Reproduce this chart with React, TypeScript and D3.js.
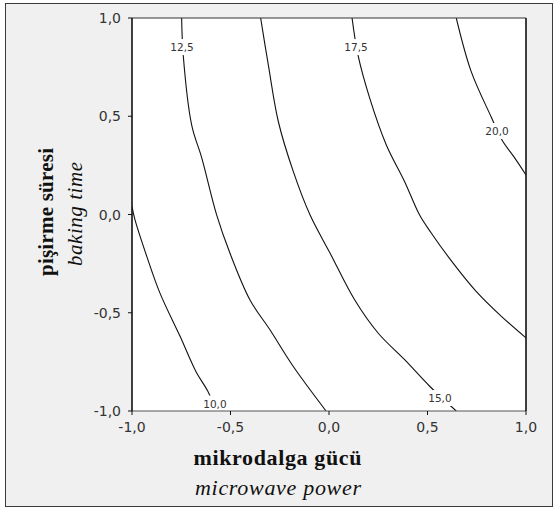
import React from 'react';
import * as d3 from 'd3';

// axis ticks
const xTicks = [-1, -0.5, 0, 0.5, 1];
const yTicks = [-1, -0.5, 0, 0.5, 1];

// contour levels and the points of each line
const levels = ['10,0', '12,5', '15,0', '17,5', '20,0'];

const line100 = [
  [-1, 0.04], [-0.985, -0.026], [-0.925, -0.213], [-0.858, -0.4],
  [-0.756, -0.62], [-0.675, -0.8], [-0.615, -0.9], [-0.574, -1],
];
const line125 = [
  [-0.748, 1], [-0.74, 0.812], [-0.697, 0.455], [-0.646, 0.288],
  [-0.57, -0.003], [-0.503, -0.196], [-0.401, -0.435], [-0.299, -0.588],
  [-0.183, -0.771], [-0.015, -1],
];
const line150 = [
  [-0.347, 1], [-0.308, 0.761], [-0.257, 0.472], [-0.181, 0.218],
  [-0.096, -0.003], [0.005, -0.196], [0.13, -0.434], [0.249, -0.603],
  [0.384, -0.739], [0.511, -0.874], [0.646, -1],
];
const line175 = [
  [0.117, 1], [0.147, 0.812], [0.207, 0.591], [0.291, 0.354],
  [0.384, 0.167], [0.46, -0.003], [0.519, -0.094], [0.604, -0.213],
  [0.74, -0.383], [0.875, -0.518], [1, -0.628],
];
const line200 = [
  [0.646, 1], [0.722, 0.727], [0.824, 0.495], [0.878, 0.379],
  [0.939, 0.293], [1, 0.201],
];
const contourLines = [line100, line125, line150, line175, line200];

// where each level label sits on its line
const labelPos = [
  [-0.579, -0.962], [-0.746, 0.852], [0.563, -0.934], [0.137, 0.852], [0.853, 0.425],
];

const W = 557;
const H = 509;
const margin = { top: 18, right: 31, bottom: 98, left: 132 };

export default function App() {
  const x = d3.scaleLinear().domain([-1, 1]).range([margin.left, W - margin.right]);
  const y = d3.scaleLinear().domain([-1, 1]).range([H - margin.bottom, margin.top]);
  const fmt = (v: number) => d3.format('.1f')(v).replace('.', ',').replace('−', '-');

  const path = d3.line<number[]>()
    .x(d => x(d[0]))
    .y(d => y(d[1]))
    .curve(d3.curveCatmullRom);

  const x0 = x(-1), x1 = x(1), y0 = y(-1), y1 = y(1);

  return (
    <svg width={W} height={H} style={{ position: 'absolute', left: 0, top: 0, background: '#fff' }}>
      <rect x={5.5} y={3.5} width={547} height={503} fill="#f0f0f0" stroke="#3a3a3a" />
      <rect x={x0} y={y1} width={x1 - x0} height={y0 - y1} fill="#fff" />
      <clipPath id="plot">
        <rect x={x0} y={y1} width={x1 - x0} height={y0 - y1} />
      </clipPath>

      <g clipPath="url(#plot)">
        {contourLines.map((pts, i) => (
          <path key={i} d={path(pts) || ''} fill="none" stroke="#111" strokeWidth={1.1} />
        ))}
        {labelPos.map((p, i) => (
          <g key={i}>
            <rect x={x(p[0]) - 13} y={y(p[1]) - 8} width={26} height={16} fill="#fff" />
            <text x={x(p[0])} y={y(p[1])} textAnchor="middle" dominantBaseline="central"
              fontFamily="DejaVu Sans" fontSize={10.5} fill="#333">{levels[i]}</text>
          </g>
        ))}
      </g>

      {/* frame */}
      <line x1={x0} x2={x1} y1={y1} y2={y1} stroke="#333" strokeWidth={1} />
      <line x1={x0} x2={x1} y1={y0} y2={y0} stroke="#555" strokeWidth={1} />
      <line x1={x0} x2={x0} y1={y1} y2={y0} stroke="#111" strokeWidth={1.6} />
      <line x1={x1} x2={x1} y1={y1} y2={y0} stroke="#111" strokeWidth={1.6} />

      {/* y axis */}
      {yTicks.map(t => (
        <g key={'y' + t}>
          <line x1={x0 - 4} x2={x0} y1={y(t)} y2={y(t)} stroke="#111" />
          <text x={x0 - 11} y={y(t)} textAnchor="end" dominantBaseline="central"
            fontFamily="DejaVu Sans" fontSize={14} fill="#333">{fmt(t)}</text>
        </g>
      ))}
      {/* x axis */}
      {xTicks.map(t => (
        <g key={'x' + t}>
          <line x1={x(t)} x2={x(t)} y1={y0} y2={y0 + 4} stroke="#111" />
          <text x={x(t)} y={y0 + 21} textAnchor="middle"
            fontFamily="DejaVu Sans" fontSize={14} fill="#333">{fmt(t)}</text>
        </g>
      ))}

      <text x={277.5} y={465} textAnchor="middle" fontFamily="Liberation Serif" fontWeight="bold"
        fontSize={22} textLength={168} fill="#111">mikrodalga gücü</text>
      <text x={278} y={495} textAnchor="middle" fontFamily="Liberation Serif" fontStyle="italic"
        fontSize={22} textLength={166} fill="#111">microwave power</text>

      <text transform="translate(53,212) rotate(-90)" textAnchor="middle" fontFamily="Liberation Serif"
        fontWeight="bold" fontSize={21} textLength={128} fill="#111">pişirme süresi</text>
      <text transform="translate(82,214) rotate(-90)" textAnchor="middle" fontFamily="Liberation Serif"
        fontStyle="italic" fontSize={21} textLength={104} fill="#111">baking time</text>
    </svg>
  );
}
